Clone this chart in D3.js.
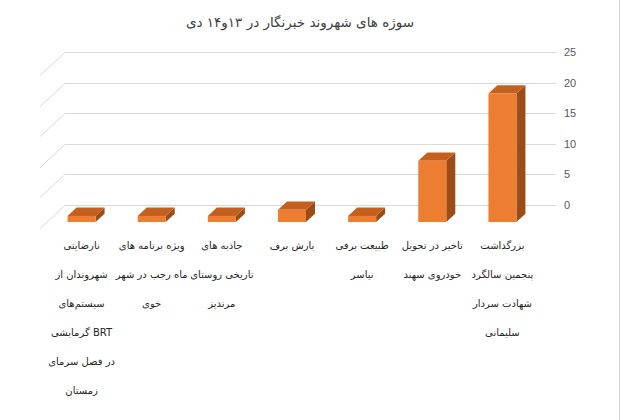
<!DOCTYPE html>
<html>
<head>
<meta charset="utf-8">
<script src="https://cdn.jsdelivr.net/npm/d3@7"></script>
<style>
  html, body { margin: 0; padding: 0; background: #fff; }
  svg { display: block; }
</style>
</head>
<body>
<svg id="chart" width="620" height="420"></svg>
<script>
// ---- data ----
const title = "سوژه های شهروند خبرنگار در ۱۳و۱۴ دی";
const categories = [
  ["بزرگداشت", "پنجمین سالگرد", "شهادت سردار", "سلیمانی"],
  ["تاخیر در تحویل", "خودروی سهند"],
  ["طبیعت برفی", "نیاسر"],
  ["بارش برف"],
  ["جاذبه های", "تاریخی روستای", "مرندیز"],
  ["ویژه برنامه های", "ماه رجب در شهر", "خوی"],
  ["نارضایتی", "شهروندان از", "سیستم\u200cهای", "\u200fBRT گرمایشی", "در فصل سرمای", "زمستان"]
];
const values = [21, 10, 1, 2, 1, 1, 1];
const tickValues = [0, 5, 10, 15, 20, 25];

// ---- layout ----
const svg = d3.select("#chart");
const backLeft = 65, backRight = 556;
const depth = { dx: -25, dy: 23 };
const fFront = 0.74, fBack = 0.38;
const halfW = 14;

const x = d3.scaleBand()
  .domain(d3.range(categories.length))
  .range([backRight, backLeft]);   // right-to-left category order

const y = d3.scaleLinear().domain([0, 25]).range([205, 52]);

// title
svg.append("text")
  .attr("x", 300).attr("y", 27)
  .attr("text-anchor", "middle")
  .attr("direction", "rtl")
  .attr("font-family", "DejaVu Sans, sans-serif")
  .attr("font-size", 13.5)
  .attr("fill", "#404040")
  .text(title);

// gridlines: back wall + left side wall
const grid = svg.append("g").attr("stroke", "#d9d9d9").attr("stroke-width", 1).attr("fill", "none");
tickValues.forEach(t => {
  const yy = Math.round(y(t)) + 0.5;
  grid.append("line").attr("x1", backLeft).attr("x2", backRight).attr("y1", yy).attr("y2", yy);
  grid.append("line").attr("x1", backLeft).attr("y1", yy)
    .attr("x2", backLeft + depth.dx).attr("y2", yy + depth.dy);
});

// value axis on the right
const axis = svg.append("g")
  .attr("transform", `translate(${backRight + 2},0)`)
  .call(d3.axisRight(y).tickValues(tickValues).tickSize(0).tickPadding(6));
axis.select(".domain").remove();
axis.selectAll("text")
  .attr("font-family", "Liberation Sans, Arial, sans-serif")
  .attr("font-size", 11)
  .attr("fill", "#595959");

// bars (3D)
const P = (px, py, f) => [px + depth.dx * f, py + depth.dy * f];
const bars = svg.append("g");
values.forEach((v, i) => {
  const cx = x(i) + x.bandwidth() / 2;
  const x0 = cx - halfW, x1 = cx + halfW;
  const yt = y(v), yb = y(0);
  const fTL = P(x0, yt, fFront), fTR = P(x1, yt, fFront);
  const fBR = P(x1, yb, fFront), fBL = P(x0, yb, fFront);
  const bTL = P(x0, yt, fBack), bTR = P(x1, yt, fBack), bBR = P(x1, yb, fBack);
  const poly = pts => pts.map(p => p.join(",")).join(" ");
  bars.append("polygon").attr("points", poly([fTR, bTR, bBR, fBR])).attr("fill", "#9c4c17");
  bars.append("polygon").attr("points", poly([fTL, bTL, bTR, fTR])).attr("fill", "#c3601f");
  bars.append("polygon").attr("points", poly([fTL, fTR, fBR, fBL])).attr("fill", "#ed7d31");
});

// category labels
const labels = svg.append("g")
  .attr("font-family", "DejaVu Sans, sans-serif")
  .attr("font-size", 10)
  .attr("fill", "#262626")
  .attr("text-anchor", "middle");
categories.forEach((lines, i) => {
  const cx = x(i) + x.bandwidth() / 2 + depth.dx * fFront;
  lines.forEach((ln, k) => {
    labels.append("text")
      .attr("x", cx).attr("y", 249 + k * 29)
      .attr("direction", "rtl")
      .text(ln);
  });
});

// right border
svg.append("line").attr("x1", 619.5).attr("x2", 619.5).attr("y1", 0).attr("y2", 420)
  .attr("stroke", "#d9d9d9");
</script>
</body>
</html>
